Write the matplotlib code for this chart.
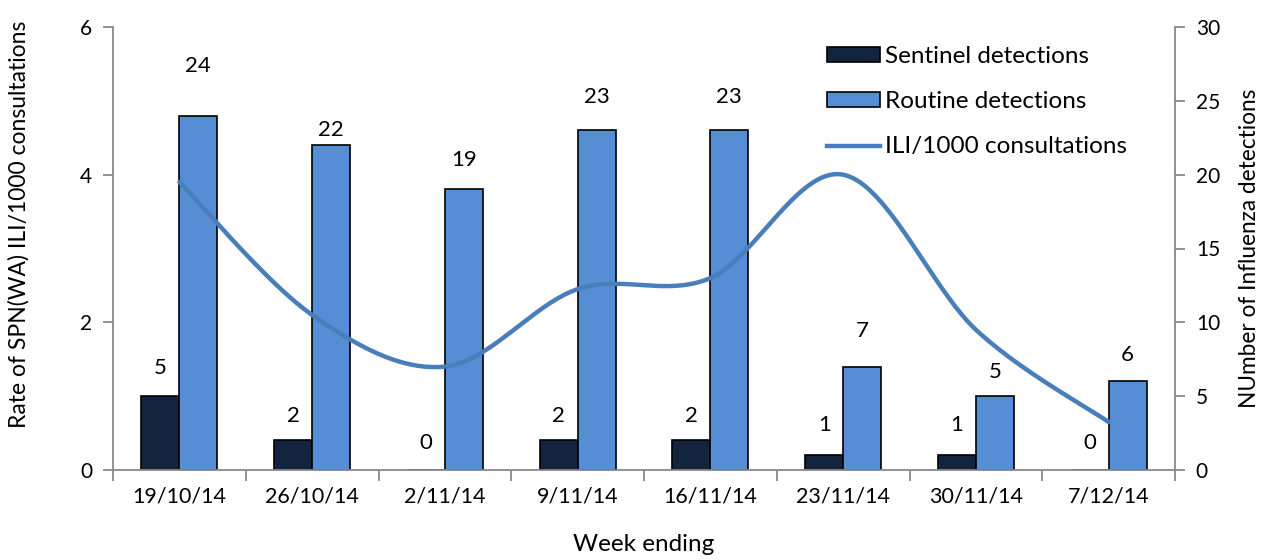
import numpy as np
import matplotlib
matplotlib.use("Agg")
import matplotlib.pyplot as plt
from matplotlib.patches import Patch
from matplotlib.lines import Line2D

# ---- data ----
weeks = ["19/10/14", "26/10/14", "2/11/14", "9/11/14",
         "16/11/14", "23/11/14", "30/11/14", "7/12/14"]
sentinel = [5, 2, 0, 2, 2, 1, 1, 0]
routine = [24, 22, 19, 23, 23, 7, 5, 6]
ili_rate = [3.9, 2.1, 1.4, 2.45, 2.6, 4.0, 1.9, 0.65]

# label vertical offsets (pixels above bar top, to label centre)
sent_off = [28, 24, 27, 24, 24, 30, 30, 27]
rout_off = [50, 15, 29, 33, 33, 36, 24, 26]

plt.rcParams['font.family'] = ['Lato', 'DejaVu Sans']

W, H = 1269, 560
fig = plt.figure(figsize=(W / 100, H / 100), dpi=100)
ax = fig.add_axes([113 / W, 90 / H, 1062 / W, 443 / H])
ax2 = ax.twinx()

x = np.arange(len(weeks))
bw = 0.286
ax2.bar(x - bw / 2, sentinel, bw, color='#13243F', edgecolor='black', lw=1.2, zorder=2)
ax2.bar(x + bw / 2, routine, bw, color='#558ED5', edgecolor='black', lw=1.2, zorder=2)
ax2.set_ylim(0, 30)
ax2.set_yticks([0, 5, 10, 15, 20, 25, 30])


def smooth(xs, ys, n=40):
    pts = np.column_stack([xs, ys]).astype(float)
    p = np.vstack([pts[0], pts, pts[-1]])
    out = []
    t = np.linspace(0, 1, n)[:, None]
    for i in range(1, len(p) - 2):
        p0, p1, p2, p3 = p[i - 1], p[i], p[i + 1], p[i + 2]
        c1 = p1 + (p2 - p0) / 6
        c2 = p2 - (p3 - p1) / 6
        out.append((1 - t) ** 3 * p1 + 3 * (1 - t) ** 2 * t * c1
                   + 3 * (1 - t) * t ** 2 * c2 + t ** 3 * p2)
    return np.vstack(out)


curve = smooth(x, ili_rate)
ax.plot(curve[:, 0], curve[:, 1], color='#4A7EBB', lw=3.2, solid_capstyle='round', zorder=5)
ax.set_ylim(0, 6)
ax.set_yticks([0, 2, 4, 6])
ax.set_xlim(-0.5, len(weeks) - 0.5)
ax.set_zorder(ax2.get_zorder() + 1)
ax.patch.set_visible(False)

# labels
for i in range(len(weeks)):
    ax2.annotate(str(sentinel[i]), (x[i] - bw / 2, sentinel[i]), xytext=(0, sent_off[i]),
                 textcoords='offset pixels', ha='center', va='center', fontsize=16)
    ax2.annotate(str(routine[i]), (x[i] + bw / 2, routine[i]), xytext=(0, rout_off[i]),
                 textcoords='offset pixels', ha='center', va='center', fontsize=16)

spc = '#898989'
for a in (ax, ax2):
    a.spines['top'].set_visible(False)
    for s in a.spines.values():
        s.set_color(spc)
        s.set_linewidth(1.3)
ax.spines['right'].set_visible(False)
ax2.spines['left'].set_visible(False)
ax2.spines['bottom'].set_visible(False)

ax.set_xticks(x)
ax.set_xticklabels(weeks, fontsize=15.5)
ax.set_xticks(np.arange(-0.5, len(weeks), 1), minor=True)
ax.tick_params(axis='x', which='major', length=0, pad=12)
ax.tick_params(axis='x', which='minor', length=8, color=spc, width=1.3, direction='out')
ax.tick_params(axis='y', length=7, color=spc, width=1.3, labelsize=15, pad=8)
ax2.tick_params(axis='y', length=7, color=spc, width=1.3, labelsize=15, pad=8)

ax.set_xlabel('Week ending', fontsize=17.5)
ax.xaxis.set_label_coords(0.5, -(534 - 470) / 443)
ax.set_ylabel('Rate of SPN(WA) ILI/1000 consultations', fontsize=16.5)
ax.yaxis.set_label_coords((30 - 113) / 1062, (470 - 224) / 443)
ax2.set_ylabel('NUmber of Influenza detections', fontsize=16.3, rotation=90)
ax2.yaxis.set_label_coords((1239 - 113) / 1062, (470 - 248) / 443)

handles = [Patch(facecolor='#13243F', edgecolor='black', lw=1.2, label='Sentinel detections'),
           Patch(facecolor='#558ED5', edgecolor='black', lw=1.2, label='Routine detections'),
           Line2D([], [], color='#4A7EBB', lw=3.2, label='ILI/1000 consultations')]
ax.legend(handles=handles, loc='upper left', bbox_to_anchor=(805 / W, 1 - 24 / H),
          bbox_transform=fig.transFigure, frameon=False, fontsize=17.5,
          handlelength=2.2, handleheight=0.55, handletextpad=0.2, labelspacing=1.0)

fig.savefig('out.png', dpi=100)
